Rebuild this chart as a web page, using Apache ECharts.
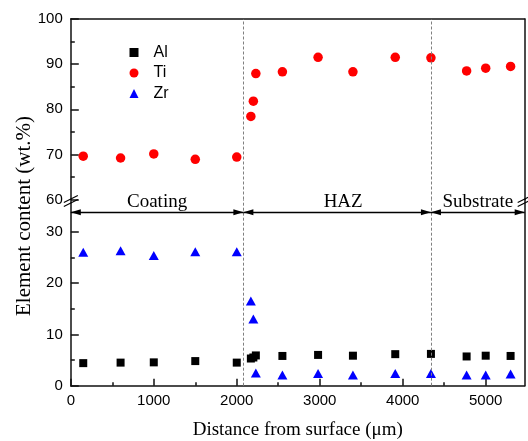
<!DOCTYPE html>
<html>
<head>
<meta charset="utf-8">
<script src="https://cdn.jsdelivr.net/npm/echarts@6/dist/echarts.min.js"></script>
<style>
  html, body { margin: 0; padding: 0; background: #fff; }
  #chart { width: 528px; height: 441px; }
</style>
</head>
<body>
<div id="chart"></div>
<script>
// Measurement positions (µm from surface)
const distance = [150, 600, 1000, 1500, 2000, 2170, 2200, 2230, 2550, 2980, 3400, 3910, 4340, 4770, 5000, 5300];
// Element contents (wt.%)
const alContent = [4.4, 4.5, 4.55, 4.8, 4.5, 5.3, 5.5, 5.9, 5.8, 6.0, 5.85, 6.15, 6.2, 5.7, 5.85, 5.8];
const tiContent = [69.6, 69.2, 70.1, 68.9, 69.4, 78.4, 81.8, 87.9, 88.3, 91.5, 88.3, 91.5, 91.4, 88.5, 89.1, 89.5];
const zrContent = [26.0, 26.3, 25.4, 26.1, 26.1, 16.5, 13.0, 2.5, 2.1, 2.4, 2.1, 2.4, 2.4, 2.1, 2.1, 2.3];

// Axis ticks
const xTicks = [0, 1000, 2000, 3000, 4000, 5000];
const xMinorTicks = [500, 1500, 2500, 3500, 4500];
const lowerYTicks = [0, 10, 20, 30];
const lowerYMinorTicks = [5, 15, 25];

// Zones along the depth profile
const zoneNames = ['Coating', 'HAZ', 'Substrate'];
const zoneBounds = [0, 2080, 4340, 5470];
const zoneArrowLevel = 33.8;

const X_MAX = 5470;
const LOWER_MAX = 36.3;

const SANS = '"Liberation Sans", Arial, sans-serif';
const SERIF = '"Liberation Serif", "Times New Roman", serif';
const AXIS_COLOR = '#111';

const chart = echarts.init(document.getElementById('chart'), null, { renderer: 'canvas' });

const axisLine = { show: true, lineStyle: { color: AXIS_COLOR, width: 1.5 } };
const noLine = { show: false };
const labelStyle = { color: '#000', fontFamily: SANS, fontSize: 15, formatter: v => String(v) };

const boundaryLines = {
  silent: true,
  animation: false,
  symbol: 'none',
  label: { show: false },
  lineStyle: { color: '#808080', width: 1, type: [3, 2] },
  data: zoneBounds.slice(1, 3).map(v => ({ xAxis: v }))
};

// Zone label tweak: the middle label sits a little right of its span centre
const zoneLabelPadding = { HAZ: [0, 0, 0, 12] };

const option = {
  animation: false,
  backgroundColor: '#fff',
  grid: [
    { left: 70.8, right: 3.3, top: 19, height: 180.5 },
    { left: 70.8, right: 3.3, top: 199.5, height: 186.2 }
  ],
  legend: {
    orient: 'vertical',
    left: 124.5,
    top: 39.5,
    itemWidth: 9,
    itemHeight: 9,
    itemGap: 4.5,
    textStyle: { color: '#000', fontFamily: SANS, fontSize: 16, padding: [0, 0, 0, 10] },
    data: ['Al', 'Ti', 'Zr']
  },
  xAxis: [
    {
      type: 'value', gridIndex: 0, position: 'top', min: 0, max: X_MAX,
      axisLine: axisLine, axisTick: { show: false }, axisLabel: { show: false }, splitLine: { show: false }
    },
    {
      type: 'value', gridIndex: 1, position: 'bottom', min: 0, max: X_MAX,
      name: 'Distance from surface (\u03bcm)', nameLocation: 'middle', nameGap: 35,
      nameTextStyle: { color: '#000', fontFamily: SERIF, fontSize: 19 },
      axisLine: axisLine,
      axisTick: { show: true, inside: true, length: 7, customValues: xTicks, lineStyle: { color: AXIS_COLOR, width: 1.5 } },
      axisLabel: Object.assign({ margin: 8, customValues: xTicks }, labelStyle),
      splitLine: { show: false }
    },
    {
      type: 'value', gridIndex: 1, position: 'bottom', min: 0, max: X_MAX,
      axisLine: noLine,
      axisTick: { show: true, inside: true, length: 3.5, customValues: xMinorTicks, lineStyle: { color: AXIS_COLOR, width: 1.5 } },
      axisLabel: { show: false }, splitLine: { show: false }
    }
  ],
  yAxis: [
    {
      type: 'value', gridIndex: 0, position: 'left', min: 60, max: 100, interval: 10,
      axisLine: axisLine,
      axisTick: { show: true, inside: true, length: 8, lineStyle: { color: AXIS_COLOR, width: 1.5 } },
      minorTick: { show: true, splitNumber: 2, length: 4, lineStyle: { color: AXIS_COLOR, width: 1.5 } },
      axisLabel: Object.assign({ margin: 8 }, labelStyle),
      splitLine: { show: false }
    },
    {
      type: 'value', gridIndex: 0, position: 'right', min: 60, max: 100,
      axisLine: axisLine, axisTick: { show: false }, axisLabel: { show: false }, splitLine: { show: false }
    },
    {
      type: 'value', gridIndex: 1, position: 'left', min: 0, max: LOWER_MAX,
      axisLine: axisLine,
      axisTick: { show: true, inside: true, length: 8, customValues: lowerYTicks, lineStyle: { color: AXIS_COLOR, width: 1.5 } },
      axisLabel: Object.assign({ margin: 8, customValues: lowerYTicks }, labelStyle),
      splitLine: { show: false }
    },
    {
      type: 'value', gridIndex: 1, position: 'left', min: 0, max: LOWER_MAX,
      axisLine: noLine,
      axisTick: { show: true, inside: true, length: 4, customValues: lowerYMinorTicks, lineStyle: { color: AXIS_COLOR, width: 1.5 } },
      axisLabel: { show: false }, splitLine: { show: false }
    },
    {
      type: 'value', gridIndex: 1, position: 'right', min: 0, max: LOWER_MAX,
      axisLine: axisLine, axisTick: { show: false }, axisLabel: { show: false }, splitLine: { show: false }
    }
  ],
  series: [
    {
      name: 'Al', type: 'scatter', xAxisIndex: 1, yAxisIndex: 2,
      symbol: 'rect', symbolSize: 8,
      itemStyle: { color: '#000000', opacity: 1 },
      data: distance.map((d, i) => [d, alContent[i]]),
      markLine: boundaryLines
    },
    {
      name: 'Ti', type: 'scatter', xAxisIndex: 0, yAxisIndex: 0,
      symbol: 'circle', symbolSize: 9.5,
      itemStyle: { color: '#ff0000', opacity: 1 },
      data: distance.map((d, i) => [d, tiContent[i]]),
      markLine: boundaryLines
    },
    {
      name: 'Zr', type: 'scatter', xAxisIndex: 1, yAxisIndex: 2,
      symbol: 'triangle', symbolSize: [10, 9],
      itemStyle: { color: '#0000ff', opacity: 1 },
      data: distance.map((d, i) => [d, zrContent[i]]),
      markLine: {
        silent: true,
        animation: false,
        symbol: ['triangle', 'triangle'],
        symbolSize: [6, 10],
        // pull both arrowheads inward so their tips end on the zone boundary
        symbolOffset: [[0, 5], [0, 5]],
        lineStyle: { color: '#000', width: 1.3, type: 'solid' },
        label: {
          show: true, position: 'middle', formatter: '{b}', distance: 1,
          color: '#000', fontFamily: SERIF, fontSize: 19
        },
        data: zoneNames.map((name, i) => {
          const start = { name: name, coord: [zoneBounds[i], zoneArrowLevel] };
          if (zoneLabelPadding[name]) start.label = { padding: zoneLabelPadding[name] };
          return [start, { coord: [zoneBounds[i + 1], zoneArrowLevel] }];
        })
      }
    }
  ]
};

chart.setOption(option);

// Axis-break marks and the vertical axis title
const leftBreak = chart.convertToPixel({ xAxisIndex: 0, yAxisIndex: 0 }, [0, 60]);
const rightBreak = chart.convertToPixel({ xAxisIndex: 0, yAxisIndex: 0 }, [X_MAX, 60]);
function breakMarks(p) {
  const style = { stroke: '#000', lineWidth: 1.2 };
  return [
    { type: 'line', shape: { x1: p[0] - 7, y1: p[1] + 3, x2: p[0] + 7, y2: p[1] - 4 }, style: style, z: 100 },
    { type: 'line', shape: { x1: p[0] - 7, y1: p[1] + 7, x2: p[0] + 7, y2: p[1] }, style: style, z: 100 }
  ];
}
chart.setOption({
  graphic: breakMarks(leftBreak).concat(breakMarks(rightBreak)).concat([
    {
      type: 'text', x: 24, y: 216, rotation: Math.PI / 2,
      style: {
        text: 'Element content (wt.%)', fill: '#000',
        font: '21px "Liberation Serif", "Times New Roman", serif',
        align: 'center', verticalAlign: 'middle',
        textAlign: 'center', textVerticalAlign: 'middle'
      }
    }
  ])
});
</script>
</body>
</html>
